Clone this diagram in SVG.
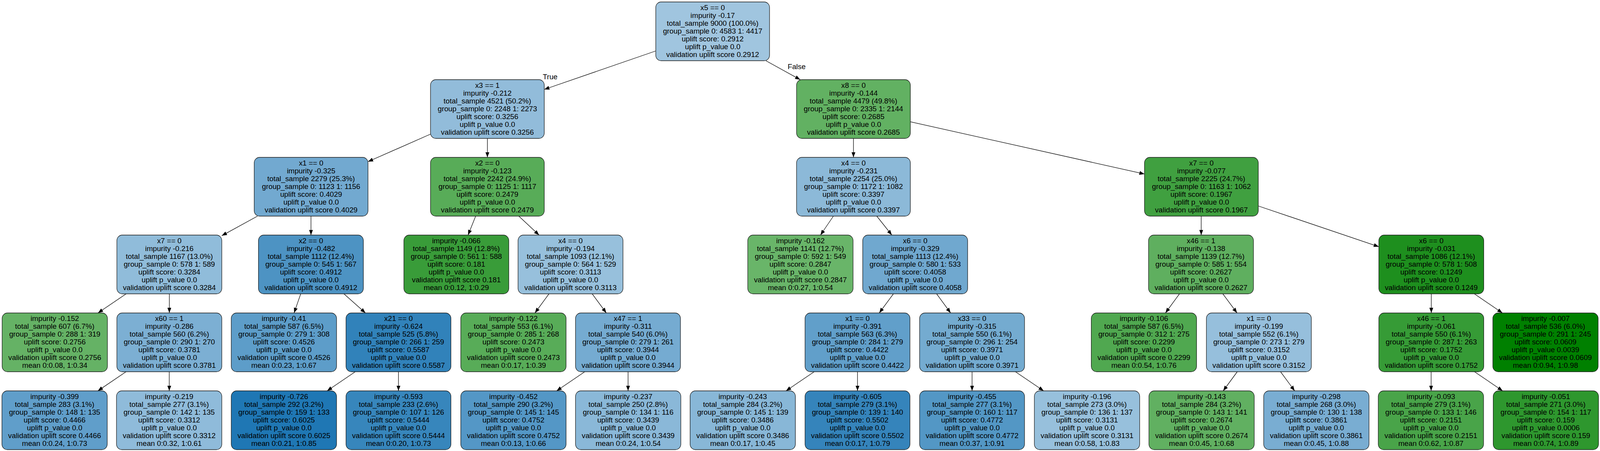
<svg xmlns="http://www.w3.org/2000/svg" width="4149" height="1155" viewBox="0 0 4149 1155" xml:space="preserve">
<style>
.node rect{stroke:#1a1a1a;stroke-width:1.3}
text{font-family:"Liberation Sans",Arial,sans-serif;font-size:19px;fill:#000}
.node text{text-anchor:middle}
.edges line{stroke:#000;stroke-width:1.3;marker-end:url(#arr)}
.lbl{text-anchor:start}
</style>
<defs><marker id="arr" markerUnits="userSpaceOnUse" markerWidth="14" markerHeight="10" refX="13.3" refY="5" orient="auto"><path d="M0,0L13.3,5L0,10z" fill="#000"/></marker></defs>
<rect x="0" y="0" width="4149" height="1155" fill="#fff"/>
<g id="diagram" transform="scale(0.9875,1)">
<g id="edges" class="edges">
<line x1="1700" y1="130.5" x2="1411" y2="229"/>
<line x1="1985.5" y1="155.5" x2="2074.5" y2="204"/>
<line x1="1116" y1="343.5" x2="954" y2="414"/>
<line x1="1263.5" y1="354.5" x2="1263.5" y2="403"/>
<line x1="2212.5" y1="354.5" x2="2212.5" y2="403"/>
<line x1="2360" y1="311.8" x2="2967" y2="445.7"/>
<line x1="667.5" y1="553.5" x2="575" y2="603.6"/>
<line x1="806.2" y1="553.5" x2="806.2" y2="602"/>
<line x1="1233.1" y1="553.5" x2="1213.4" y2="602"/>
<line x1="1345" y1="553.5" x2="1397.5" y2="602"/>
<line x1="2160.5" y1="553.5" x2="2127" y2="602"/>
<line x1="2273" y1="553.5" x2="2312" y2="602"/>
<line x1="3114" y1="553.5" x2="3114" y2="602"/>
<line x1="3262" y1="527.5" x2="3574.5" y2="631.8"/>
<line x1="327" y1="752.5" x2="254" y2="801.5"/>
<line x1="439" y1="752.5" x2="439" y2="801.5"/>
<line x1="779.6" y1="752.5" x2="762.4" y2="801.5"/>
<line x1="891.6" y1="752.5" x2="947.4" y2="801.5"/>
<line x1="1423.2" y1="752.5" x2="1386.8" y2="801.5"/>
<line x1="1535.2" y1="752.5" x2="1571.8" y2="801.5"/>
<line x1="2316.1" y1="752.5" x2="2279.4" y2="801.5"/>
<line x1="2428.1" y1="752.5" x2="2464.4" y2="801.5"/>
<line x1="3057.7" y1="752.5" x2="3021.3" y2="801.5"/>
<line x1="3170.1" y1="752.5" x2="3206.9" y2="801.5"/>
<line x1="3710.5" y1="752.5" x2="3710.5" y2="801.5"/>
<line x1="3822.2" y1="752.5" x2="3894.8" y2="801.5"/>
<line x1="326.8" y1="952" x2="253.7" y2="1001"/>
<line x1="438.8" y1="952" x2="438.8" y2="1001"/>
<line x1="921" y1="952" x2="848" y2="1001"/>
<line x1="1033" y1="952" x2="1033" y2="1001"/>
<line x1="1516" y1="952" x2="1443" y2="1001"/>
<line x1="1628.2" y1="952" x2="1628.2" y2="1001"/>
<line x1="2110.8" y1="952" x2="2037.7" y2="1001"/>
<line x1="2223" y1="952" x2="2223" y2="1001"/>
<line x1="2520" y1="952" x2="2520" y2="1001"/>
<line x1="2632.4" y1="952" x2="2705.6" y2="1001"/>
<line x1="3207.5" y1="952" x2="3171" y2="1001"/>
<line x1="3319.7" y1="952" x2="3356.3" y2="1001"/>
<line x1="3710" y1="952" x2="3710" y2="1001"/>
<line x1="3822.5" y1="952" x2="3895.5" y2="1001"/>
<text class="lbl" x="1407" y="203">True</text>
<text class="lbl" x="2042" y="177">False</text>
</g>
<g id="n0" class="node"><rect x="1700" y="5" width="295" height="150.5" rx="14" fill="#a0c5df"/><text y="25.7"><tspan x="1847.5">x5 == 0</tspan><tspan x="1847.5" dy="20">impurity -0.17</tspan><tspan x="1847.5" dy="20">total_sample 9000 (100.0%)</tspan><tspan x="1847.5" dy="20">group_sample  0: 4583 1: 4417</tspan><tspan x="1847.5" dy="20">uplift score: 0.2912</tspan><tspan x="1847.5" dy="20">uplift p_value 0.0</tspan><tspan x="1847.5" dy="20">validation uplift score 0.2912</tspan></text></g>
<g id="n1" class="node"><rect x="1116" y="204" width="295" height="150.5" rx="14" fill="#92bcda"/><text y="224.7"><tspan x="1263.5">x3 == 1</tspan><tspan x="1263.5" dy="20">impurity -0.212</tspan><tspan x="1263.5" dy="20">total_sample 4521 (50.2%)</tspan><tspan x="1263.5" dy="20">group_sample  0: 2248 1: 2273</tspan><tspan x="1263.5" dy="20">uplift score: 0.3256</tspan><tspan x="1263.5" dy="20">uplift p_value 0.0</tspan><tspan x="1263.5" dy="20">validation uplift score 0.3256</tspan></text></g>
<g id="n2" class="node"><rect x="2065" y="204" width="295" height="150.5" rx="14" fill="#62b162"/><text y="224.7"><tspan x="2212.5">x8 == 0</tspan><tspan x="2212.5" dy="20">impurity -0.144</tspan><tspan x="2212.5" dy="20">total_sample 4479 (49.8%)</tspan><tspan x="2212.5" dy="20">group_sample  0: 2335 1: 2144</tspan><tspan x="2212.5" dy="20">uplift score: 0.2685</tspan><tspan x="2212.5" dy="20">uplift p_value 0.0</tspan><tspan x="2212.5" dy="20">validation uplift score 0.2685</tspan></text></g>
<g id="n3" class="node"><rect x="659" y="403" width="295" height="150.5" rx="14" fill="#72a9d0"/><text y="423.7"><tspan x="806.5">x1 == 0</tspan><tspan x="806.5" dy="20">impurity -0.325</tspan><tspan x="806.5" dy="20">total_sample 2279 (25.3%)</tspan><tspan x="806.5" dy="20">group_sample  0: 1123 1: 1156</tspan><tspan x="806.5" dy="20">uplift score: 0.4029</tspan><tspan x="806.5" dy="20">uplift p_value 0.0</tspan><tspan x="806.5" dy="20">validation uplift score 0.4029</tspan></text></g>
<g id="n4" class="node"><rect x="1116" y="403" width="295" height="150.5" rx="14" fill="#58ac58"/><text y="423.7"><tspan x="1263.5">x2 == 0</tspan><tspan x="1263.5" dy="20">impurity -0.123</tspan><tspan x="1263.5" dy="20">total_sample 2242 (24.9%)</tspan><tspan x="1263.5" dy="20">group_sample  0: 1125 1: 1117</tspan><tspan x="1263.5" dy="20">uplift score: 0.2479</tspan><tspan x="1263.5" dy="20">uplift p_value 0.0</tspan><tspan x="1263.5" dy="20">validation uplift score 0.2479</tspan></text></g>
<g id="n5" class="node"><rect x="2065" y="403" width="295" height="150.5" rx="14" fill="#8cb9d8"/><text y="423.7"><tspan x="2212.5">x4 == 0</tspan><tspan x="2212.5" dy="20">impurity -0.231</tspan><tspan x="2212.5" dy="20">total_sample 2254 (25.0%)</tspan><tspan x="2212.5" dy="20">group_sample  0: 1172 1: 1082</tspan><tspan x="2212.5" dy="20">uplift score: 0.3397</tspan><tspan x="2212.5" dy="20">uplift p_value 0.0</tspan><tspan x="2212.5" dy="20">validation uplift score 0.3397</tspan></text></g>
<g id="n6" class="node"><rect x="2967" y="403" width="295" height="150.5" rx="14" fill="#40a040"/><text y="423.7"><tspan x="3114.5">x7 == 0</tspan><tspan x="3114.5" dy="20">impurity -0.077</tspan><tspan x="3114.5" dy="20">total_sample 2225 (24.7%)</tspan><tspan x="3114.5" dy="20">group_sample  0: 1163 1: 1062</tspan><tspan x="3114.5" dy="20">uplift score: 0.1967</tspan><tspan x="3114.5" dy="20">uplift p_value 0.0</tspan><tspan x="3114.5" dy="20">validation uplift score 0.1967</tspan></text></g>
<g id="n7" class="node"><rect x="303" y="602" width="272" height="150.5" rx="14" fill="#90bcda"/><text y="622.7"><tspan x="439">x7 == 0</tspan><tspan x="439" dy="20">impurity -0.216</tspan><tspan x="439" dy="20">total_sample 1167 (13.0%)</tspan><tspan x="439" dy="20">group_sample  0: 578 1: 589</tspan><tspan x="439" dy="20">uplift score: 0.3284</tspan><tspan x="439" dy="20">uplift p_value 0.0</tspan><tspan x="439" dy="20">validation uplift score 0.3284</tspan></text></g>
<g id="n8" class="node"><rect x="670" y="602" width="272" height="150.5" rx="14" fill="#4d93c3"/><text y="622.7"><tspan x="806">x2 == 0</tspan><tspan x="806" dy="20">impurity -0.482</tspan><tspan x="806" dy="20">total_sample 1112 (12.4%)</tspan><tspan x="806" dy="20">group_sample  0: 545 1: 567</tspan><tspan x="806" dy="20">uplift score: 0.4912</tspan><tspan x="806" dy="20">uplift p_value 0.0</tspan><tspan x="806" dy="20">validation uplift score 0.4912</tspan></text></g>
<g id="n9" class="node"><rect x="1047" y="602" width="272" height="150.5" rx="14" fill="#399c39"/><text y="622.7"><tspan x="1183">impurity -0.066</tspan><tspan x="1183" dy="20">total_sample 1149 (12.8%)</tspan><tspan x="1183" dy="20">group_sample  0: 561 1: 588</tspan><tspan x="1183" dy="20">uplift score: 0.181</tspan><tspan x="1183" dy="20">uplift p_value 0.0</tspan><tspan x="1183" dy="20">validation uplift score 0.181</tspan><tspan x="1183" dy="20">mean 0:0.12, 1:0.29</tspan></text></g>
<g id="n10" class="node"><rect x="1343" y="602" width="272" height="150.5" rx="14" fill="#97c0dc"/><text y="622.7"><tspan x="1479">x4 == 0</tspan><tspan x="1479" dy="20">impurity -0.194</tspan><tspan x="1479" dy="20">total_sample 1093 (12.1%)</tspan><tspan x="1479" dy="20">group_sample  0: 564 1: 529</tspan><tspan x="1479" dy="20">uplift score: 0.3113</tspan><tspan x="1479" dy="20">uplift p_value 0.0</tspan><tspan x="1479" dy="20">validation uplift score 0.3113</tspan></text></g>
<g id="n11" class="node"><rect x="1938.5" y="602" width="273" height="150.5" rx="14" fill="#69b569"/><text y="622.7"><tspan x="2075">impurity -0.162</tspan><tspan x="2075" dy="20">total_sample 1141 (12.7%)</tspan><tspan x="2075" dy="20">group_sample  0: 592 1: 549</tspan><tspan x="2075" dy="20">uplift score: 0.2847</tspan><tspan x="2075" dy="20">uplift p_value 0.0</tspan><tspan x="2075" dy="20">validation uplift score 0.2847</tspan><tspan x="2075" dy="20">mean 0:0.27, 1:0.54</tspan></text></g>
<g id="n12" class="node"><rect x="2236.5" y="602" width="272" height="150.5" rx="14" fill="#70a8cf"/><text y="622.7"><tspan x="2372.5">x6 == 0</tspan><tspan x="2372.5" dy="20">impurity -0.329</tspan><tspan x="2372.5" dy="20">total_sample 1113 (12.4%)</tspan><tspan x="2372.5" dy="20">group_sample  0: 580 1: 533</tspan><tspan x="2372.5" dy="20">uplift score: 0.4058</tspan><tspan x="2372.5" dy="20">uplift p_value 0.0</tspan><tspan x="2372.5" dy="20">validation uplift score 0.4058</tspan></text></g>
<g id="n13" class="node"><rect x="2977.5" y="602" width="272" height="150.5" rx="14" fill="#5faf5f"/><text y="622.7"><tspan x="3113.5">x46 == 1</tspan><tspan x="3113.5" dy="20">impurity -0.138</tspan><tspan x="3113.5" dy="20">total_sample 1139 (12.7%)</tspan><tspan x="3113.5" dy="20">group_sample  0: 585 1: 554</tspan><tspan x="3113.5" dy="20">uplift score: 0.2627</tspan><tspan x="3113.5" dy="20">uplift p_value 0.0</tspan><tspan x="3113.5" dy="20">validation uplift score 0.2627</tspan></text></g>
<g id="n14" class="node"><rect x="3574.5" y="602" width="272" height="150.5" rx="14" fill="#1e8f1e"/><text y="622.7"><tspan x="3710.5">x6 == 0</tspan><tspan x="3710.5" dy="20">impurity -0.031</tspan><tspan x="3710.5" dy="20">total_sample 1086 (12.1%)</tspan><tspan x="3710.5" dy="20">group_sample  0: 578 1: 508</tspan><tspan x="3710.5" dy="20">uplift score: 0.1249</tspan><tspan x="3710.5" dy="20">uplift p_value 0.0</tspan><tspan x="3710.5" dy="20">validation uplift score 0.1249</tspan></text></g>
<g id="n15" class="node"><rect x="5.5" y="801.5" width="273" height="150.5" rx="14" fill="#65b265"/><text y="822.2"><tspan x="142">impurity -0.152</tspan><tspan x="142" dy="20">total_sample 607 (6.7%)</tspan><tspan x="142" dy="20">group_sample  0: 288 1: 319</tspan><tspan x="142" dy="20">uplift score: 0.2756</tspan><tspan x="142" dy="20">uplift p_value 0.0</tspan><tspan x="142" dy="20">validation uplift score 0.2756</tspan><tspan x="142" dy="20">mean 0:0.08, 1:0.34</tspan></text></g>
<g id="n16" class="node"><rect x="303" y="801.5" width="272" height="150.5" rx="14" fill="#7cafd3"/><text y="822.2"><tspan x="439">x60 == 1</tspan><tspan x="439" dy="20">impurity -0.286</tspan><tspan x="439" dy="20">total_sample 560 (6.2%)</tspan><tspan x="439" dy="20">group_sample  0: 290 1: 270</tspan><tspan x="439" dy="20">uplift score: 0.3781</tspan><tspan x="439" dy="20">uplift p_value 0.0</tspan><tspan x="439" dy="20">validation uplift score 0.3781</tspan></text></g>
<g id="n17" class="node"><rect x="599.5" y="801.5" width="273" height="150.5" rx="14" fill="#5d9dc9"/><text y="822.2"><tspan x="736">impurity -0.41</tspan><tspan x="736" dy="20">total_sample 587 (6.5%)</tspan><tspan x="736" dy="20">group_sample  0: 279 1: 308</tspan><tspan x="736" dy="20">uplift score: 0.4526</tspan><tspan x="736" dy="20">uplift p_value 0.0</tspan><tspan x="736" dy="20">validation uplift score 0.4526</tspan><tspan x="736" dy="20">mean 0:0.23, 1:0.67</tspan></text></g>
<g id="n18" class="node"><rect x="897" y="801.5" width="272" height="150.5" rx="14" fill="#3182ba"/><text y="822.2"><tspan x="1033">x21 == 0</tspan><tspan x="1033" dy="20">impurity -0.624</tspan><tspan x="1033" dy="20">total_sample 525 (5.8%)</tspan><tspan x="1033" dy="20">group_sample  0: 266 1: 259</tspan><tspan x="1033" dy="20">uplift score: 0.5587</tspan><tspan x="1033" dy="20">uplift p_value 0.0</tspan><tspan x="1033" dy="20">validation uplift score 0.5587</tspan></text></g>
<g id="n19" class="node"><rect x="1194.5" y="801.5" width="273" height="150.5" rx="14" fill="#58ac58"/><text y="822.2"><tspan x="1331">impurity -0.122</tspan><tspan x="1331" dy="20">total_sample 553 (6.1%)</tspan><tspan x="1331" dy="20">group_sample  0: 285 1: 268</tspan><tspan x="1331" dy="20">uplift score: 0.2473</tspan><tspan x="1331" dy="20">uplift p_value 0.0</tspan><tspan x="1331" dy="20">validation uplift score 0.2473</tspan><tspan x="1331" dy="20">mean 0:0.17, 1:0.39</tspan></text></g>
<g id="n20" class="node"><rect x="1492" y="801.5" width="272" height="150.5" rx="14" fill="#75abd1"/><text y="822.2"><tspan x="1628">x47 == 1</tspan><tspan x="1628" dy="20">impurity -0.311</tspan><tspan x="1628" dy="20">total_sample 540 (6.0%)</tspan><tspan x="1628" dy="20">group_sample  0: 279 1: 261</tspan><tspan x="1628" dy="20">uplift score: 0.3944</tspan><tspan x="1628" dy="20">uplift p_value 0.0</tspan><tspan x="1628" dy="20">validation uplift score 0.3944</tspan></text></g>
<g id="n21" class="node"><rect x="2087" y="801.5" width="272" height="150.5" rx="14" fill="#619fca"/><text y="822.2"><tspan x="2223">x1 == 0</tspan><tspan x="2223" dy="20">impurity -0.391</tspan><tspan x="2223" dy="20">total_sample 563 (6.3%)</tspan><tspan x="2223" dy="20">group_sample  0: 284 1: 279</tspan><tspan x="2223" dy="20">uplift score: 0.4422</tspan><tspan x="2223" dy="20">uplift p_value 0.0</tspan><tspan x="2223" dy="20">validation uplift score 0.4422</tspan></text></g>
<g id="n22" class="node"><rect x="2384" y="801.5" width="272" height="150.5" rx="14" fill="#74abd0"/><text y="822.2"><tspan x="2520">x33 == 0</tspan><tspan x="2520" dy="20">impurity -0.315</tspan><tspan x="2520" dy="20">total_sample 550 (6.1%)</tspan><tspan x="2520" dy="20">group_sample  0: 296 1: 254</tspan><tspan x="2520" dy="20">uplift score: 0.3971</tspan><tspan x="2520" dy="20">uplift p_value 0.0</tspan><tspan x="2520" dy="20">validation uplift score 0.3971</tspan></text></g>
<g id="n23" class="node"><rect x="2829" y="801.5" width="273" height="150.5" rx="14" fill="#50a850"/><text y="822.2"><tspan x="2965.5">impurity -0.106</tspan><tspan x="2965.5" dy="20">total_sample 587 (6.5%)</tspan><tspan x="2965.5" dy="20">group_sample  0: 312 1: 275</tspan><tspan x="2965.5" dy="20">uplift score: 0.2299</tspan><tspan x="2965.5" dy="20">uplift p_value 0.0</tspan><tspan x="2965.5" dy="20">validation uplift score 0.2299</tspan><tspan x="2965.5" dy="20">mean 0:0.54, 1:0.76</tspan></text></g>
<g id="n24" class="node"><rect x="3127.5" y="801.5" width="272" height="150.5" rx="14" fill="#96bfdc"/><text y="822.2"><tspan x="3263.5">x1 == 0</tspan><tspan x="3263.5" dy="20">impurity -0.199</tspan><tspan x="3263.5" dy="20">total_sample 552 (6.1%)</tspan><tspan x="3263.5" dy="20">group_sample  0: 273 1: 279</tspan><tspan x="3263.5" dy="20">uplift score: 0.3152</tspan><tspan x="3263.5" dy="20">uplift p_value 0.0</tspan><tspan x="3263.5" dy="20">validation uplift score 0.3152</tspan></text></g>
<g id="n25" class="node"><rect x="3574.5" y="801.5" width="272" height="150.5" rx="14" fill="#369b36"/><text y="822.2"><tspan x="3710.5">x46 == 1</tspan><tspan x="3710.5" dy="20">impurity -0.061</tspan><tspan x="3710.5" dy="20">total_sample 550 (6.1%)</tspan><tspan x="3710.5" dy="20">group_sample  0: 287 1: 263</tspan><tspan x="3710.5" dy="20">uplift score: 0.1752</tspan><tspan x="3710.5" dy="20">uplift p_value 0.0</tspan><tspan x="3710.5" dy="20">validation uplift score 0.1752</tspan></text></g>
<g id="n26" class="node"><rect x="3870" y="801.5" width="273" height="150.5" rx="14" fill="#008000"/><text y="822.2"><tspan x="4006.5">impurity -0.007</tspan><tspan x="4006.5" dy="20">total_sample 536 (6.0%)</tspan><tspan x="4006.5" dy="20">group_sample  0: 291 1: 245</tspan><tspan x="4006.5" dy="20">uplift score: 0.0609</tspan><tspan x="4006.5" dy="20">uplift p_value 0.0039</tspan><tspan x="4006.5" dy="20">validation uplift score 0.0609</tspan><tspan x="4006.5" dy="20">mean 0:0.94, 1:0.98</tspan></text></g>
<g id="n27" class="node"><rect x="5" y="1001" width="273" height="150.5" rx="14" fill="#609eca"/><text y="1021.7"><tspan x="141.5">impurity -0.399</tspan><tspan x="141.5" dy="20">total_sample 283 (3.1%)</tspan><tspan x="141.5" dy="20">group_sample  0: 148 1: 135</tspan><tspan x="141.5" dy="20">uplift score: 0.4466</tspan><tspan x="141.5" dy="20">uplift p_value 0.0</tspan><tspan x="141.5" dy="20">validation uplift score 0.4466</tspan><tspan x="141.5" dy="20">mean 0:0.24, 1:0.73</tspan></text></g>
<g id="n28" class="node"><rect x="302" y="1001" width="273" height="150.5" rx="14" fill="#8fbbda"/><text y="1021.7"><tspan x="438.5">impurity -0.219</tspan><tspan x="438.5" dy="20">total_sample 277 (3.1%)</tspan><tspan x="438.5" dy="20">group_sample  0: 142 1: 135</tspan><tspan x="438.5" dy="20">uplift score: 0.3312</tspan><tspan x="438.5" dy="20">uplift p_value 0.0</tspan><tspan x="438.5" dy="20">validation uplift score 0.3312</tspan><tspan x="438.5" dy="20">mean 0:0.32, 1:0.61</tspan></text></g>
<g id="n29" class="node"><rect x="599.5" y="1001" width="273" height="150.5" rx="14" fill="#1f77b4"/><text y="1021.7"><tspan x="736">impurity -0.726</tspan><tspan x="736" dy="20">total_sample 292 (3.2%)</tspan><tspan x="736" dy="20">group_sample  0: 159 1: 133</tspan><tspan x="736" dy="20">uplift score: 0.6025</tspan><tspan x="736" dy="20">uplift p_value 0.0</tspan><tspan x="736" dy="20">validation uplift score 0.6025</tspan><tspan x="736" dy="20">mean 0:0.21, 1:0.85</tspan></text></g>
<g id="n30" class="node"><rect x="897" y="1001" width="272" height="150.5" rx="14" fill="#3786bc"/><text y="1021.7"><tspan x="1033">impurity -0.593</tspan><tspan x="1033" dy="20">total_sample 233 (2.6%)</tspan><tspan x="1033" dy="20">group_sample  0: 107 1: 126</tspan><tspan x="1033" dy="20">uplift score: 0.5444</tspan><tspan x="1033" dy="20">uplift p_value 0.0</tspan><tspan x="1033" dy="20">validation uplift score 0.5444</tspan><tspan x="1033" dy="20">mean 0:0.20, 1:0.73</tspan></text></g>
<g id="n31" class="node"><rect x="1194.5" y="1001" width="273" height="150.5" rx="14" fill="#5497c6"/><text y="1021.7"><tspan x="1331">impurity -0.452</tspan><tspan x="1331" dy="20">total_sample 290 (3.2%)</tspan><tspan x="1331" dy="20">group_sample  0: 145 1: 145</tspan><tspan x="1331" dy="20">uplift score: 0.4752</tspan><tspan x="1331" dy="20">uplift p_value 0.0</tspan><tspan x="1331" dy="20">validation uplift score 0.4752</tspan><tspan x="1331" dy="20">mean 0:0.13, 1:0.66</tspan></text></g>
<g id="n32" class="node"><rect x="1492" y="1001" width="273" height="150.5" rx="14" fill="#8ab8d8"/><text y="1021.7"><tspan x="1628.5">impurity -0.237</tspan><tspan x="1628.5" dy="20">total_sample 250 (2.8%)</tspan><tspan x="1628.5" dy="20">group_sample  0: 134 1: 116</tspan><tspan x="1628.5" dy="20">uplift score: 0.3439</tspan><tspan x="1628.5" dy="20">uplift p_value 0.0</tspan><tspan x="1628.5" dy="20">validation uplift score 0.3439</tspan><tspan x="1628.5" dy="20">mean 0:0.24, 1:0.54</tspan></text></g>
<g id="n33" class="node"><rect x="1789" y="1001" width="273" height="150.5" rx="14" fill="#88b7d7"/><text y="1021.7"><tspan x="1925.5">impurity -0.243</tspan><tspan x="1925.5" dy="20">total_sample 284 (3.2%)</tspan><tspan x="1925.5" dy="20">group_sample  0: 145 1: 139</tspan><tspan x="1925.5" dy="20">uplift score: 0.3486</tspan><tspan x="1925.5" dy="20">uplift p_value 0.0</tspan><tspan x="1925.5" dy="20">validation uplift score 0.3486</tspan><tspan x="1925.5" dy="20">mean 0:0.17, 1:0.45</tspan></text></g>
<g id="n34" class="node"><rect x="2087" y="1001" width="272" height="150.5" rx="14" fill="#3584bb"/><text y="1021.7"><tspan x="2223">impurity -0.605</tspan><tspan x="2223" dy="20">total_sample 279 (3.1%)</tspan><tspan x="2223" dy="20">group_sample  0: 139 1: 140</tspan><tspan x="2223" dy="20">uplift score: 0.5502</tspan><tspan x="2223" dy="20">uplift p_value 0.0</tspan><tspan x="2223" dy="20">validation uplift score 0.5502</tspan><tspan x="2223" dy="20">mean 0:0.17, 1:0.79</tspan></text></g>
<g id="n35" class="node"><rect x="2384" y="1001" width="272" height="150.5" rx="14" fill="#5397c5"/><text y="1021.7"><tspan x="2520">impurity -0.455</tspan><tspan x="2520" dy="20">total_sample 277 (3.1%)</tspan><tspan x="2520" dy="20">group_sample  0: 160 1: 117</tspan><tspan x="2520" dy="20">uplift score: 0.4772</tspan><tspan x="2520" dy="20">uplift p_value 0.0</tspan><tspan x="2520" dy="20">validation uplift score 0.4772</tspan><tspan x="2520" dy="20">mean 0:0.37, 1:0.91</tspan></text></g>
<g id="n36" class="node"><rect x="2681.5" y="1001" width="273" height="150.5" rx="14" fill="#97c0dc"/><text y="1021.7"><tspan x="2818">impurity -0.196</tspan><tspan x="2818" dy="20">total_sample 273 (3.0%)</tspan><tspan x="2818" dy="20">group_sample  0: 136 1: 137</tspan><tspan x="2818" dy="20">uplift score: 0.3131</tspan><tspan x="2818" dy="20">uplift p_value 0.0</tspan><tspan x="2818" dy="20">validation uplift score 0.3131</tspan><tspan x="2818" dy="20">mean 0:0.58, 1:0.83</tspan></text></g>
<g id="n37" class="node"><rect x="2978.5" y="1001" width="273" height="150.5" rx="14" fill="#61b061"/><text y="1021.7"><tspan x="3115">impurity -0.143</tspan><tspan x="3115" dy="20">total_sample 284 (3.2%)</tspan><tspan x="3115" dy="20">group_sample  0: 143 1: 141</tspan><tspan x="3115" dy="20">uplift score: 0.2674</tspan><tspan x="3115" dy="20">uplift p_value 0.0</tspan><tspan x="3115" dy="20">validation uplift score 0.2674</tspan><tspan x="3115" dy="20">mean 0:0.45, 1:0.68</tspan></text></g>
<g id="n38" class="node"><rect x="3276" y="1001" width="273" height="150.5" rx="14" fill="#79add2"/><text y="1021.7"><tspan x="3412.5">impurity -0.298</tspan><tspan x="3412.5" dy="20">total_sample 268 (3.0%)</tspan><tspan x="3412.5" dy="20">group_sample  0: 130 1: 138</tspan><tspan x="3412.5" dy="20">uplift score: 0.3861</tspan><tspan x="3412.5" dy="20">uplift p_value 0.0</tspan><tspan x="3412.5" dy="20">validation uplift score 0.3861</tspan><tspan x="3412.5" dy="20">mean 0:0.45, 1:0.88</tspan></text></g>
<g id="n39" class="node"><rect x="3573" y="1001" width="273" height="150.5" rx="14" fill="#49a449"/><text y="1021.7"><tspan x="3709.5">impurity -0.093</tspan><tspan x="3709.5" dy="20">total_sample 279 (3.1%)</tspan><tspan x="3709.5" dy="20">group_sample  0: 133 1: 146</tspan><tspan x="3709.5" dy="20">uplift score: 0.2151</tspan><tspan x="3709.5" dy="20">uplift p_value 0.0</tspan><tspan x="3709.5" dy="20">validation uplift score 0.2151</tspan><tspan x="3709.5" dy="20">mean 0:0.62, 1:0.87</tspan></text></g>
<g id="n40" class="node"><rect x="3871" y="1001" width="273" height="150.5" rx="14" fill="#2e972e"/><text y="1021.7"><tspan x="4007.5">impurity -0.051</tspan><tspan x="4007.5" dy="20">total_sample 271 (3.0%)</tspan><tspan x="4007.5" dy="20">group_sample  0: 154 1: 117</tspan><tspan x="4007.5" dy="20">uplift score: 0.159</tspan><tspan x="4007.5" dy="20">uplift p_value 0.0006</tspan><tspan x="4007.5" dy="20">validation uplift score 0.159</tspan><tspan x="4007.5" dy="20">mean 0:0.74, 1:0.89</tspan></text></g>
</g>
</svg>
